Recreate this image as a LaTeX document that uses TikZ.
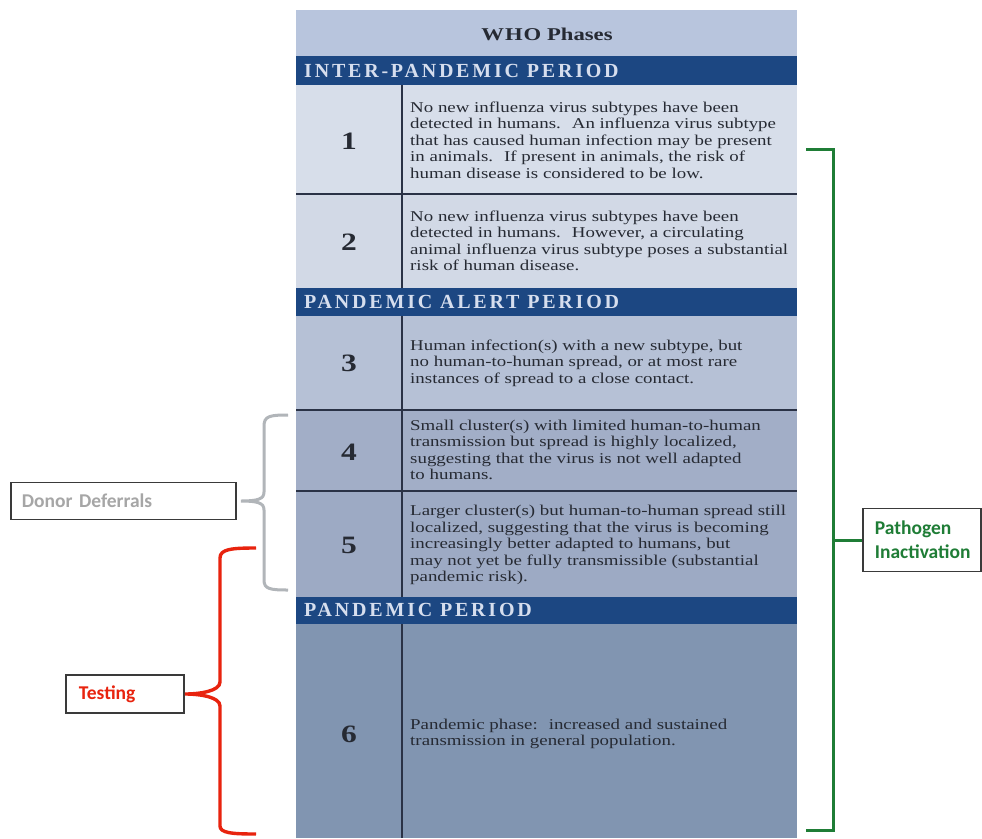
\documentclass[tikz,border=0pt]{standalone}
\usepackage{fontspec}
\setmainfont[FakeStretch=1.26]{Liberation Serif}
\newfontfamily\bandfont[LetterSpace=14]{Liberation Serif}
\newfontfamily\lblfont{Carlito}
\definecolor{titlebg}{HTML}{B8C5DD}
\definecolor{bandbg}{HTML}{1C4782}
\definecolor{bandtx}{HTML}{D6DEEE}
\definecolor{rowA}{HTML}{D7DEEA}
\definecolor{rowB}{HTML}{D2D9E6}
\definecolor{rowC}{HTML}{B6C1D6}
\definecolor{rowD}{HTML}{A2AEC7}
\definecolor{rowE}{HTML}{9DAAC4}
\definecolor{rowF}{HTML}{8195B1}
\definecolor{rule}{HTML}{2A3246}
\definecolor{txt}{HTML}{262A33}
\definecolor{greyb}{HTML}{B1B5B9}
\definecolor{greyt}{HTML}{A6A6A6}
\definecolor{redb}{HTML}{E8230E}
\definecolor{greenb}{HTML}{1F7D36}
\definecolor{boxline}{HTML}{3A3A3A}
\tikzset{
  rowtext/.style={anchor=west, align=left, inner sep=0pt, text=txt,
    font={\fontsize{15}{16.5}\selectfont}},
  phasenum/.style={inner sep=0pt, text=txt, font={\fontsize{25}{27}\selectfont\bfseries}},
  bandtext/.style={anchor=west, inner sep=0pt, text=bandtx,
    font={\bandfont\bfseries\fontsize{20}{22}\selectfont}},
  lblbox/.style={draw=boxline, line width=1.8pt, anchor=west, align=left,
    font={\lblfont\bfseries\fontsize{19.5}{24}\selectfont}},
  rowrule/.style={draw=rule, line width=1.4pt},
  bracegrey/.style={draw=greyb, line width=3pt},
  bracered/.style={draw=redb, line width=3.4pt},
  bracegreen/.style={draw=greenb, line width=3pt}
}
\begin{document}
\begin{tikzpicture}[x=1pt,y=-1pt]
\useasboundingbox (0,0) rectangle (982,838);
\fill[white] (0,0) rectangle (982,838);
% table backgrounds
\fill[titlebg] (296,10) rectangle (797,56);
\fill[bandbg] (296,56) rectangle (797,85);
\fill[rowA] (296,85) rectangle (797,194);
\fill[rowB] (296,194) rectangle (797,288);
\fill[bandbg] (296,288) rectangle (797,316);
\fill[rowC] (296,316) rectangle (797,410);
\fill[rowD] (296,410) rectangle (797,491);
\fill[rowE] (296,491) rectangle (797,597);
\fill[bandbg] (296,597) rectangle (797,624);
\fill[rowF] (296,624) rectangle (797,838);
% rules
\draw[rowrule] (296,194) -- (797,194);
\draw[rowrule] (296,410) -- (797,410);
\draw[rowrule] (296,491) -- (797,491);
\draw[rowrule] (402,85) -- (402,288);
\draw[rowrule] (402,316) -- (402,597);
\draw[rowrule] (402,624) -- (402,838);
% title and bands
\node[inner sep=0pt, text=txt, font={\fontsize{18}{20}\selectfont\bfseries}] (title) at (547,34) {W\kern1pt H\kern1pt O Phases};
\node[bandtext] (b1) at (304,71) {INTER-PANDEMIC PERIOD};
\node[bandtext] (b2) at (304,302) {PANDEMIC ALERT PERIOD};
\node[bandtext] (b3) at (304,610) {PANDEMIC PERIOD};
% phase numbers
\node[phasenum] (n1) at (349,141) {1};
\node[phasenum] (n2) at (349,242) {2};
\node[phasenum] (n3) at (349,363) {3};
\node[phasenum] (n4) at (349,452) {4};
\node[phasenum] (n5) at (349,545) {5};
\node[phasenum] (n6) at (349,734) {6};
% phase texts
\node[rowtext] (t1) at (410,140) {No new influenza virus subtypes have been\\detected in humans.~ An influenza virus subtype\\that has caused human infection may be present\\in animals.~ If present in animals, the risk of\\human disease is considered to be low.};
\node[rowtext] (t2) at (410,241) {No new influenza virus subtypes have been\\detected in humans.~ However, a circulating\\animal influenza virus subtype poses a substantial\\risk of human disease.};
\node[rowtext] (t3) at (410,363) {Human infection(s) with a new subtype, but\\no human-to-human spread, or at most rare\\instances of spread to a close contact.};
\node[rowtext] (t4) at (410,450) {Small cluster(s) with limited human-to-human\\transmission but spread is highly localized,\\suggesting that the virus is not well adapted\\to humans.};
\node[rowtext] (t5) at (410,545) {Larger cluster(s) but human-to-human spread still\\localized, suggesting that the virus is becoming\\increasingly better adapted to humans, but\\may not yet be fully transmissible (substantial\\pandemic risk).};
\node[rowtext] (t6) at (410,734) {Pandemic phase:~ increased and sustained\\transmission in general population.};
% label boxes
\node[lblbox, text=greyt, inner xsep=11pt, text width=203pt, minimum height=37pt] (dd) at (10,501) {Donor Deferrals};
\node[lblbox, text=redb, inner xsep=13pt, text width=92pt, minimum height=38pt] (ts) at (65,694) {Testing};
\node[lblbox, text=greenb, inner xsep=12pt, inner ysep=5pt, text width=94pt, minimum height=63pt] (pi) at (862,540) {Pathogen\\Inactivation};
% braces
\draw[bracegrey] (288,415) .. controls (270,415) and (264,416) .. (264,426) -- (264,492)
  .. controls (264,499) and (258,501) .. ([xshift=4pt]dd.east)
  .. controls (258,501) and (264,503) .. (264,510) -- (264,580)
  .. controls (264,589) and (270,590) .. (288,590);
\draw[bracered] (256,548) .. controls (232,548) and (220,549) .. (220,558) -- (220,682)
  .. controls (220,691) and (200,694) .. (ts.east)
  .. controls (200,694) and (220,697) .. (220,706) -- (220,826)
  .. controls (220,833) and (232,834) .. (256,834);
\draw[bracegreen] (806,149) -- (833,149) -- (833,830) -- (806,830);
\draw[bracegreen] (833,540) -- (pi.west);
\end{tikzpicture}
\end{document}
